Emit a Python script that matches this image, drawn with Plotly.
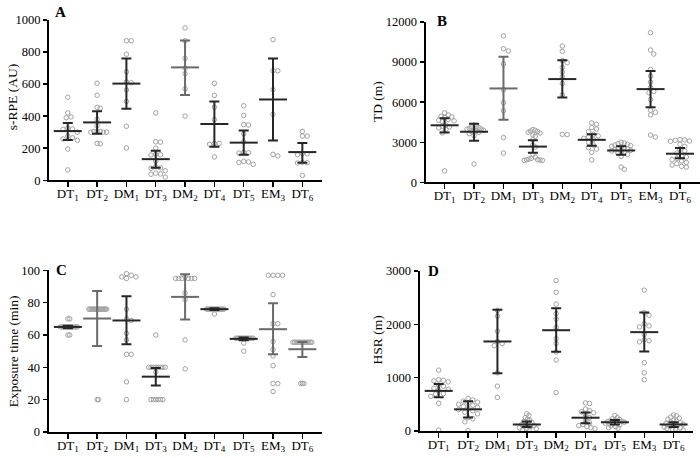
import numpy as np
import plotly.graph_objects as go

# ---------------- DATA ----------------
categories = ["DT1", "DT2", "DM1", "DT3", "DM2", "DT4", "DT5", "EM3", "DT6"]
tick_labels = ["DT<sub>1</sub>", "DT<sub>2</sub>", "DM<sub>1</sub>", "DT<sub>3</sub>", "DM<sub>2</sub>",
               "DT<sub>4</sub>", "DT<sub>5</sub>", "EM<sub>3</sub>", "DT<sub>6</sub>"]

# Panel A: s-RPE (AU)
srpe_points = [
    [518, 420, 395, 390, 325, 320, 318, 300, 275, 265, 258, 250, 195, 65],
    [605, 530, 455, 450, 380, 340, 305, 305, 305, 300, 300, 300, 230, 228],
    [870, 870, 786, 677, 613, 608, 563, 492, 337, 202],
    [420, 240, 238, 200, 162, 160, 158, 120, 85, 78, 75, 60, 45, 40, 38, 20],
    [950, 870, 760, 700, 665, 570, 400],
    [605, 530, 456, 379, 230, 230, 225, 146],
    [465, 405, 347, 345, 290, 240, 175, 172, 170, 118, 115, 112, 100],
    [877, 683, 683, 565, 411, 162, 152],
    [305, 276, 276, 168, 165, 160, 112, 110, 108, 31],
]
srpe_mean = [307, 361, 603, 132, 704, 351, 235, 504, 176]
srpe_low = [251, 291, 446, 79, 532, 210, 160, 249, 110]
srpe_high = [357, 431, 759, 184, 871, 492, 311, 759, 233]
srpe_ticks = [0, 200, 400, 600, 800, 1000]

# Panel B: TD (m)
td_points = [
    [5200, 5050, 4950, 4900, 4850, 4700, 4650, 4600, 4550, 4300, 4200, 4150, 4080, 3950, 3700, 870],
    [4300, 4200, 4150, 4100, 4050, 4000, 3980, 3950, 3900, 3850, 3800, 3750, 3650, 3500, 1380],
    [10964, 9998, 9829, 8863, 6931, 5965, 5361, 3357, 2198],
    [3950, 3900, 3850, 3800, 3750, 3700, 3550, 3450, 3200, 2800, 2650, 2100, 1900, 1800, 1750,
     1700, 1700, 1680, 1650, 1650],
    [10200, 9800, 9100, 8950, 8600, 8250, 7900, 7400, 6550, 3600, 3580],
    [4450, 4350, 4100, 4000, 3800, 3600, 3480, 3400, 3300, 3200, 3000, 2800, 2600, 2500, 2250, 1680],
    [3000, 2950, 2900, 2850, 2800, 2750, 2700, 2650, 2600, 2550, 2500, 2450, 2400, 2350, 2300,
     2250, 2200, 2100, 1950, 1150, 980],
    [11200, 9900, 9600, 8450, 7950, 7500, 7100, 6800, 6700, 6200, 5400, 5250, 5050, 3550, 3400],
    [3200, 3180, 3150, 3100, 3080, 2850, 2700, 2500, 2350, 2200, 2000, 1900, 1800, 1700, 1600,
     1500, 1400, 1300, 1200, 1150],
]
td_mean = [4275, 3792, 7028, 2681, 7728, 3188, 2391, 6979, 2149]
td_low = [3743, 3115, 4685, 2222, 6351, 2753, 2077, 5627, 1811]
td_high = [4806, 4395, 9394, 3164, 9129, 3598, 2705, 8332, 2584]
td_ticks = [0, 3000, 6000, 9000, 12000]

# Panel C: Exposure time (min)
exp_points = [
    [70, 70, 65, 65, 65, 65, 65, 65, 65, 65, 65, 65, 60, 60],
    [76, 76, 76, 76, 76, 76, 76, 76, 76, 76, 76, 76, 76, 76, 76, 76, 20, 20],
    [96, 96, 98, 95, 97, 76, 70, 69, 61, 57, 48, 48, 31, 20],
    [60, 40, 40, 40, 40, 40, 40, 40, 40, 37, 20, 20, 20, 20, 20, 20],
    [95, 95, 95, 95, 95, 95, 96, 86, 82, 57, 39],
    [76, 76, 76, 76, 76, 76, 76, 76, 76, 76, 76, 76, 73],
    [58, 58, 58, 58, 58, 58, 58, 58, 58, 58, 58, 58, 55, 50],
    [97, 97, 97, 97, 85, 67, 67, 56, 51, 47, 41, 30, 30, 25],
    [55.5, 55.5, 55.5, 55.5, 55.5, 55.5, 55.5, 55.5, 55.5, 55.5, 55.5, 55.5, 55.5, 30, 30, 30],
]
exp_mean = [65, 70.2, 69, 34.2, 83.6, 76, 57.6, 63.6, 51.2]
exp_low = [64.2, 53.2, 54.2, 28.8, 69.6, 75.4, 56.8, 48, 46.4]
exp_high = [65.8, 87.2, 84, 39.6, 97.6, 76.6, 58.4, 79.6, 55.6]
exp_ticks = [0, 20, 40, 60, 80, 100]

# Panel D: HSR (m)
hsr_points = [
    [1140, 960, 950, 940, 920, 860, 840, 800, 780, 760, 700, 690, 650, 520, 15],
    [610, 580, 560, 540, 520, 500, 480, 460, 440, 420, 400, 380, 350, 320, 250, 230, 170, 5],
    [2260, 2150, 1870, 1680, 1640, 1600, 1090, 840, 630],
    [320, 290, 250, 220, 200, 180, 160, 140, 130, 120, 100, 90, 80, 60, 50, 40, 20, 10],
    [2820, 2600, 2380, 2200, 2100, 1940, 1730, 1640, 1480, 1330, 720],
    [525, 515, 410, 380, 360, 340, 300, 250, 200, 150, 120, 100, 80, 60, 40],
    [290, 250, 230, 215, 200, 190, 180, 175, 165, 155, 145, 130, 115, 100, 80, 60, 50],
    [2640, 2220, 2170, 2010, 1970, 1950, 1810, 1710, 1690, 1670, 1280, 1090, 960],
    [300, 285, 260, 240, 220, 200, 185, 170, 155, 140, 125, 110, 100, 85, 70, 55, 45, 35, 25, 15],
]
hsr_mean = [751, 405, 1678, 121, 1889, 248, 163, 1853, 121]
hsr_low = [630, 254, 1084, 72, 1484, 145, 120, 1490, 72]
hsr_high = [878, 557, 2272, 175, 2301, 345, 205, 2223, 163]
hsr_ticks = [0, 1000, 2000, 3000]

# ---------------- LAYOUT / STYLE ----------------
W, H = 700, 458
FONT = "Liberation Serif, Times New Roman, serif"
DARK = "#262626"
GRAY = "#6a6a6a"
PT_COLOR = "#a2a2a2"

panels = [
    dict(key="", letter="A", title="s-RPE (AU)", pts=srpe_points, mean=srpe_mean, lo=srpe_low, hi=srpe_high,
         xpx=(49, 322), ypx=(13.3, 178.8), xr=[-0.64, 8.67], yr=[0, 1000], yt=srpe_ticks,
         letter_px=(60, 5), title_px=(12, 93), gray=["DM2"]),
    dict(key="2", letter="B", title="TD (m)", pts=td_points, mean=td_mean, lo=td_low, hi=td_high,
         xpx=(425.5, 700), ypx=(15.4, 181), xr=[-0.65, 8.68], yr=[0, 12000], yt=td_ticks,
         letter_px=(442, 14), title_px=(377, 98), gray=["DM1"]),
    dict(key="3", letter="C", title="Exposure time (min)", pts=exp_points, mean=exp_mean, lo=exp_low, hi=exp_high,
         xpx=(48.5, 322), ypx=(271.7, 438.3), xr=[-0.66, 8.67], yr=[0, 100], yt=exp_ticks,
         letter_px=(62, 271), title_px=(13, 355), gray=["DT2", "DM2", "EM3", "DT6"]),
    dict(key="4", letter="D", title="HSR (m)", pts=hsr_points, mean=hsr_mean, lo=hsr_low, hi=hsr_high,
         xpx=(419.5, 693), ypx=(272.3, 437.3), xr=[-0.654, 8.66], yr=[0, 3000], yt=hsr_ticks,
         letter_px=(433, 272), title_px=(377, 344), gray=[]),
]


def swarm(vals, ypx_per_unit, xpx_per_unit, d=4.8, maxhalf=9.5):
    vals = np.asarray(vals, dtype=float)
    ys = vals * ypx_per_unit
    order = np.argsort(-ys, kind="stable")
    offs = np.zeros(len(vals))
    placed = []
    step = d / 3.0
    cands = [0.0]
    for k in range(1, 60):
        cands += [k * step, -k * step]
    for i in order:
        for c in cands:
            ok = True
            for (py, px) in placed:
                if (py - ys[i]) ** 2 + (px - c) ** 2 < d * d * 0.98:
                    ok = False
                    break
            if ok:
                offs[i] = c
                placed.append((ys[i], c))
                break
    m = np.max(np.abs(offs)) if len(offs) else 0
    if m > maxhalf:
        offs = offs * maxhalf / m
    return offs / xpx_per_unit


fig = go.Figure()
layout = dict(width=W, height=H, margin=dict(l=0, r=0, t=0, b=0),
              paper_bgcolor="white", plot_bgcolor="white",
              font=dict(family=FONT, size=12.5, color="black"), showlegend=False)
annotations = []

for p in panels:
    k = p["key"]
    xa, ya = "x" + k, "y" + k
    xdom = [p["xpx"][0] / W, min(1.0, p["xpx"][1] / W)]
    ydom = [1 - p["ypx"][1] / H, 1 - p["ypx"][0] / H]
    xppu = (p["xpx"][1] - p["xpx"][0]) / (p["xr"][1] - p["xr"][0])
    yppu = (p["ypx"][1] - p["ypx"][0]) / (p["yr"][1] - p["yr"][0])

    for ci, vals in enumerate(p["pts"]):
        offs = swarm(vals, yppu, xppu)
        fig.add_trace(go.Scatter(
            x=ci + offs, y=vals, mode="markers", xaxis=xa, yaxis=ya, cliponaxis=False,
            marker=dict(symbol="circle-open", size=4.5, color=PT_COLOR, line=dict(width=1, color=PT_COLOR)),
            hoverinfo="skip"))
    for ci, cat in enumerate(categories):
        col = GRAY if cat in p["gray"] else DARK
        m = p["mean"][ci]
        fig.add_trace(go.Scatter(
            x=[ci], y=[m], mode="markers", xaxis=xa, yaxis=ya, cliponaxis=False,
            marker=dict(symbol="line-ew", size=20, color=col, line=dict(width=2, color=col)),
            error_y=dict(type="data", symmetric=False, array=[p["hi"][ci] - m], arrayminus=[m - p["lo"][ci]],
                         width=5, thickness=2, color=col),
            hoverinfo="skip"))

    layout["xaxis" + k] = dict(domain=xdom, range=p["xr"], anchor=ya, tickmode="array",
                               tickvals=list(range(len(categories))), ticktext=tick_labels,
                               showline=True, linecolor="black", linewidth=2, ticks="outside",
                               ticklen=5, tickwidth=1.5, tickcolor="black", showgrid=False, zeroline=False,
                               ticklabelstandoff=-5,
                               tickfont=dict(family=FONT, size=13, color="black"), fixedrange=True)
    layout["yaxis" + k] = dict(domain=ydom, range=p["yr"], anchor=xa, tickmode="array", tickvals=p["yt"],
                               ticktext=[str(v) for v in p["yt"]],
                               showline=True, linecolor="black", linewidth=2, ticks="outside",
                               ticklen=4, tickwidth=1.5, tickcolor="black", showgrid=False, zeroline=False,
                               tickfont=dict(family=FONT, size=12.5, color="black"), fixedrange=True)
    annotations.append(dict(text="<b>%s</b>" % p["letter"], x=p["letter_px"][0] / W, y=1 - p["letter_px"][1] / H,
                            xref="paper", yref="paper", xanchor="center", yanchor="middle", showarrow=False,
                            font=dict(family=FONT, size=15, color="black")))
    annotations.append(dict(text=p["title"], x=p["title_px"][0] / W, y=1 - p["title_px"][1] / H,
                            xref="paper", yref="paper", xanchor="center", yanchor="middle", showarrow=False,
                            textangle=-90, font=dict(family=FONT, size=13.5, color="black")))

layout["annotations"] = annotations
fig.update_layout(**layout)
fig.write_html("out.html", config=dict(displayModeBar=False, staticPlot=True),
               post_script="document.body.style.margin='0';document.body.style.overflow='hidden';")
